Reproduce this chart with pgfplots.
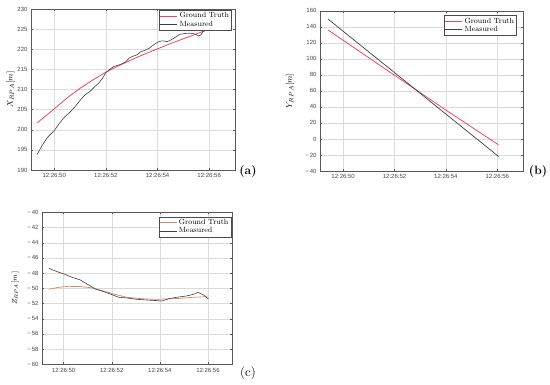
\documentclass[border=0pt]{standalone}
\usepackage{fontspec}
\setsansfont{Liberation Sans}
\usepackage{pgfplots}
\pgfplotsset{compat=1.18}
\definecolor{gt}{RGB}{238,70,95}
\definecolor{gtc}{RGB}{205,135,105}
\definecolor{meas}{RGB}{65,65,65}
\definecolor{tickc}{RGB}{70,70,70}
\pgfplotsset{matstyle/.style={
 scale only axis, xmin=49.1, xmax=57.0,
 xtick={50,52,54,56}, xticklabels={12:26:50,12:26:52,12:26:54,12:26:56},
 tick align=inside, major tick length=2pt,
 grid=major, major grid style={black!14, line width=0.3pt},
 axis line style={black!65, line width=0.4pt},
 every tick/.style={black!65, line width=0.4pt},
 tick label style={font=\sffamily\fontsize{6}{7}\selectfont, text=tickc},
 legend style={anchor=north east, font=\fontsize{7.5}{8}\selectfont, draw=black!70, line width=0.4pt, inner sep=0.5pt, row sep=-2.5pt, fill=white},
 legend cell align=left,
 legend image code/.code={\draw[##1] (0pt,0pt) -- (17pt,0pt);},
 label style={font=\fontsize{8.5}{9}\selectfont},
}}
\pgfplotstableread{
t v
49.34 201.7
50.0 205.2
50.5 207.9
51.0 210.3
51.5 212.4
52.0 214.3
52.5 215.9
53.0 217.4
53.5 218.8
54.0 220.1
54.5 221.4
55.0 222.6
55.5 223.8
55.95 224.9
}\gta
\pgfplotstableread{
t v
49.34 193.9
49.55 196.3
49.74 198.1
50.0 199.8
50.2 201.6
50.39 203.1
50.6 204.3
50.79 205.6
51.0 207.3
51.18 208.6
51.38 209.5
51.55 210.6
51.71 211.5
51.85 212.6
52.0 214.2
52.15 215.0
52.3 215.7
52.55 216.2
52.76 216.8
52.9 217.8
53.02 218.2
53.2 218.6
53.35 219.4
53.5 219.7
53.67 220.2
53.8 220.9
53.94 221.5
54.05 221.9
54.2 222.1
54.35 221.9
54.46 222.1
54.65 222.8
54.86 223.7
55.05 223.9
55.25 224.0
55.45 223.8
55.58 223.3
55.68 223.6
55.77 224.4
55.97 225.2
}\measa
\pgfplotstableread{
t v
49.41 136.0
52.0 79.5
54.0 36.0
56.05 -7.4
}\gtb
\pgfplotstableread{
t v
49.41 149.6
52.0 82.8
54.0 31.0
56.05 -21.9
}\measb
\pgfplotstableread{
t v
49.38 -50.13
49.79 -49.87
50.21 -49.74
50.69 -49.78
51.11 -49.91
51.52 -50.22
52.08 -50.75
52.63 -51.18
53.19 -51.36
53.74 -51.45
54.29 -51.40
54.85 -51.32
55.40 -51.18
55.98 -51.10
}\gtc
\pgfplotstableread{
t v
49.38 -47.37
49.72 -47.80
50.00 -48.10
50.35 -48.55
50.69 -48.90
51.04 -49.56
51.32 -50.09
51.66 -50.44
51.94 -50.75
52.29 -51.18
52.63 -51.27
53.05 -51.45
53.46 -51.54
53.88 -51.62
54.09 -51.67
54.43 -51.32
54.71 -51.18
55.12 -51.00
55.40 -50.79
55.58 -50.53
55.82 -50.88
56.02 -51.40
}\measc
\begin{document}
\begin{tikzpicture}[x=1pt,y=1pt]
\useasboundingbox (0,0) rectangle (550,384);
% (a)
\begin{axis}[matstyle, at={(31pt,214pt)}, anchor=south west, width=204pt, height=161pt,
 ymin=190, ymax=230, ytick={190,195,...,230},
 yticklabels={190,195,200,205,210,215,220,225,230},
 ylabel={$X_{RPA}[m]$}, ylabel style={at={(axis description cs:-0.1,0.5)}, anchor=center},
 legend style={at={(0.984,0.994)}}]
\addplot[gt, line width=0.8pt] table[x=t,y=v] {\gta};
\addlegendentry{Ground Truth}
\addplot[meas, line width=0.6pt] table[x=t,y=v] {\measa};
\addlegendentry{Measured}
\end{axis}
% (b)
\begin{axis}[matstyle, at={(320pt,213pt)}, anchor=south west, width=203pt, height=160.3pt,
 ymin=-40, ymax=160, ytick={-40,-20,...,160},
 yticklabels={−\,40,−\,20,0,20,40,60,80,100,120,140,160},
 ylabel={$Y_{RPA}[m]$}, ylabel style={at={(axis description cs:-0.148,0.5)}, anchor=center},
 legend style={at={(0.969,0.973)}}]
\addplot[gt, line width=0.8pt] table[x=t,y=v] {\gtb};
\addlegendentry{Ground Truth}
\addplot[meas, line width=0.7pt] table[x=t,y=v] {\measb};
\addlegendentry{Measured}
\end{axis}
% (c)
\begin{axis}[matstyle, at={(42pt,19.7pt)}, anchor=south west, width=190pt, height=152pt,
 ymin=-60, ymax=-40, ytick={-60,-58,...,-40},
 yticklabels={−\,60,−\,58,−\,56,−\,54,−\,52,−\,50,−\,48,−\,46,−\,44,−\,42,−\,40},
 ylabel={$Z_{RPA}[m]$}, ylabel style={at={(axis description cs:-0.142,0.5)}, anchor=center, font=\fontsize{7.5}{8}\selectfont},
 legend style={at={(0.995,0.971)}}]
\addplot[gtc, line width=0.7pt] table[x=t,y=v] {\gtc};
\addlegendentry{Ground Truth}
\addplot[meas, line width=0.6pt] table[x=t,y=v] {\measc};
\addlegendentry{Measured}
\end{axis}
\node[font=\bfseries\fontsize{12}{13}\selectfont] at (248,212) {(a)};
\node[font=\bfseries\fontsize{12}{13}\selectfont] at (538,212) {(b)};
\node[font=\fontsize{13}{14}\selectfont] at (248,11) {(c)};
\end{tikzpicture}
\end{document}
